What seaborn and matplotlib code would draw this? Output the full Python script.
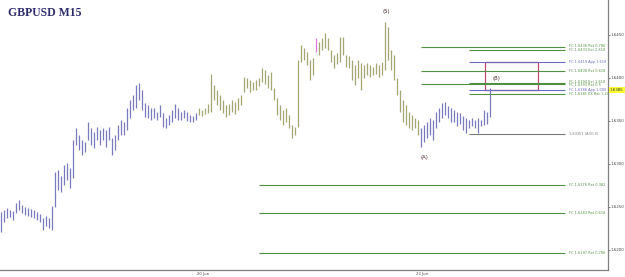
import matplotlib
matplotlib.use("Agg")
import matplotlib.pyplot as plt
import seaborn as sns
import numpy as np
import pandas as pd

# ---------------- data ----------------
# bar extremes as screen rows read from picture converted to prices
top_px = [212,210,208,210,211,203,200,205,207,208,209,210,212,214,218,216,218,206,172,170,
          176,165,163,168,140,128,135,140,142,122,128,132,127,130,128,130,127,138,135,125,
          120,122,108,100,95,85,83,90,103,105,108,108,112,105,113,118,115,110,104,108,
          112,110,112,115,116,113,108,110,108,104,74,85,90,95,100,105,104,100,102,98,
          95,77,78,80,82,80,78,68,70,75,72,88,98,105,110,108,115,125,127,60,
          45,48,52,60,58,38,42,38,33,38,50,55,53,37,37,55,56,60,65,60,
          63,65,63,65,67,63,65,62,22,27,50,55,78,90,100,105,112,115,118,120,
          128,125,122,118,120,112,108,103,102,106,108,110,112,113,116,118,120,118,120,118,
          120,110,112,88]
bot_px = [232,222,218,217,220,213,210,213,215,216,217,218,220,222,230,226,228,230,207,190,
          192,185,180,188,178,145,150,155,152,140,145,148,140,145,140,147,140,155,150,140,
          135,135,130,118,110,108,100,110,117,118,120,118,120,117,127,128,125,122,118,120,
          120,118,121,122,122,120,115,116,114,113,112,100,105,110,113,117,115,112,114,110,
          105,92,88,92,90,90,86,82,84,88,90,100,115,120,125,122,128,138,135,127,
          62,60,65,80,75,52,55,50,48,50,62,68,64,62,55,67,68,80,85,78,
          90,78,75,77,75,74,77,75,70,60,70,80,95,112,122,125,128,130,128,135,
          147,142,138,135,140,128,122,118,115,118,122,122,126,124,130,133,128,126,128,133,
          126,125,124,117]
PX_PER_UNIT = 8600.0
REF_ROW, REF_PRICE = 78, 1.6400
highs = [round(REF_PRICE + (REF_ROW - v) / PX_PER_UNIT, 5) for v in top_px]
lows = [round(REF_PRICE + (REF_ROW - v) / PX_PER_UNIT, 5) for v in bot_px]
# colour group per bar: 0 = blue, 1 = olive, 2 = pink
groups = [0] * 66 + [1] * 39 + [2] + [1] * 34 + [0] * 24

# Fibonacci cluster levels
level_prices = [1.6436, 1.6433, 1.6419, 1.6408, 1.6394, 1.6393, 1.6386, 1.6381, 1.6335,
                1.6276, 1.6243, 1.6197]
level_labels = ["FC 1.6436 Ret 0.786", "FC 1.6433 Ext 2.618", "FC 1.6419 App 1.618",
                "FC 1.6408 Ret 0.618", "FC 1.6394 Ext 1.618", "FC 1.6393 Ret 0.5",
                "FC 1.6386 App 1.000", "FC 1.6381 EX Ret 1.27", "1.63351 (A)(0.0)",
                "FC 1.6276 Ret 0.382", "FC 1.6243 Ret 0.618", "FC 1.6197 Ret 0.786"]
level_kind = ["g", "g", "b", "g", "g", "g", "b", "g", "k", "g", "g", "g"]
level_anchor = [140, 156, 156, 140, 156, 140, 156, 156, 156, 86, 86, 86]
label_nudge = [1.0, -0.6, 0, 0, 0.9, -0.6, 0, 0, 0, 0, 0, 0]
level_end = 188

yticks = [1.6200, 1.6250, 1.6300, 1.6350, 1.6400, 1.6450]
ytick_labels = ["1.6200", "1.6250", "1.6300", "1.6350", "1.6400", "1.6450"]
date_pos = [67.3, 140.3]
date_labels = ["20 Jun", "23 Jun"]
current_price = "1.6385"
wave_labels = ["(5)", "(A)", "(B)"]
wave_bars = [128.3, 141.0, 165.0]
wave_prices = [1.6477, 1.6307, 1.6399]
box_bars = [161.3, 179.0]
box_prices = [1.6386, 1.6419]

# ---------------- plot ----------------
sns.set_style("white")
df = pd.DataFrame({"bar": np.arange(len(highs)), "high": highs, "low": lows, "group": groups})

fig = plt.figure(figsize=(6.25, 2.77), dpi=100)
ax = fig.add_axes([0, 7 / 277, 608 / 625, 270 / 277])

palette = {0: "#7a7abf", 1: "#a6a672", 2: "#e07ae0"}
for g, sub in df.groupby("group"):
    ax.vlines(sub["bar"], sub["low"], sub["high"], color=palette[g], linewidth=0.9)

kind_color = {"g": "#4f9140", "b": "#6a6ac8", "k": "#7a7a7a"}
for p, lab, k, a, n in zip(level_prices, level_labels, level_kind, level_anchor, label_nudge):
    ax.hlines(p, a, level_end, color=kind_color[k], linewidth=0.8)
    ax.annotate(lab, (level_end + 1.2, p), xytext=(0, n), textcoords="offset points",
                fontsize=2.5, color=kind_color[k], va="center", ha="left")

ax.add_patch(plt.Rectangle((box_bars[0], box_prices[0]), box_bars[1] - box_bars[0],
                           box_prices[1] - box_prices[0], fill=False,
                           edgecolor="#c24a6e", linewidth=0.9))

for lab, b, p in zip(wave_labels, wave_bars, wave_prices):
    ax.text(b, p, lab, fontsize=3.8, color="#4a2424", ha="center", va="center")

ax.set_xlim(-0.33, 202.33)
ax.set_ylim(1.61767, 1.64907)
ax.yaxis.tick_right()
ax.set_yticks(yticks)
ax.set_yticklabels(ytick_labels)
ax.set_xticks(date_pos)
ax.set_xticklabels(date_labels)
ax.tick_params(axis="y", labelsize=2.9, length=1.5, width=0.5, pad=0.6, colors="#444444")
ax.tick_params(axis="x", labelsize=2.7, length=1.5, width=0.5, pad=0.3, colors="#444444")
for s in ["left", "top"]:
    ax.spines[s].set_visible(False)
for s in ["right", "bottom"]:
    ax.spines[s].set_color("#808080")
    ax.spines[s].set_linewidth(0.9)

ax.text(1.003, 1.6386, current_price, transform=ax.get_yaxis_transform(), fontsize=2.9,
        color="#333333", va="center", ha="left",
        bbox=dict(boxstyle="square,pad=0.25", facecolor="#ffff33", edgecolor="none"))

fig.text(8 / 625, 1 - 13 / 277, "GBPUSD M15", fontsize=8.5, family="Liberation Serif",
         color="#2c2c6c", fontweight="bold", va="center", ha="left")

fig.savefig("out.png", dpi=100)
